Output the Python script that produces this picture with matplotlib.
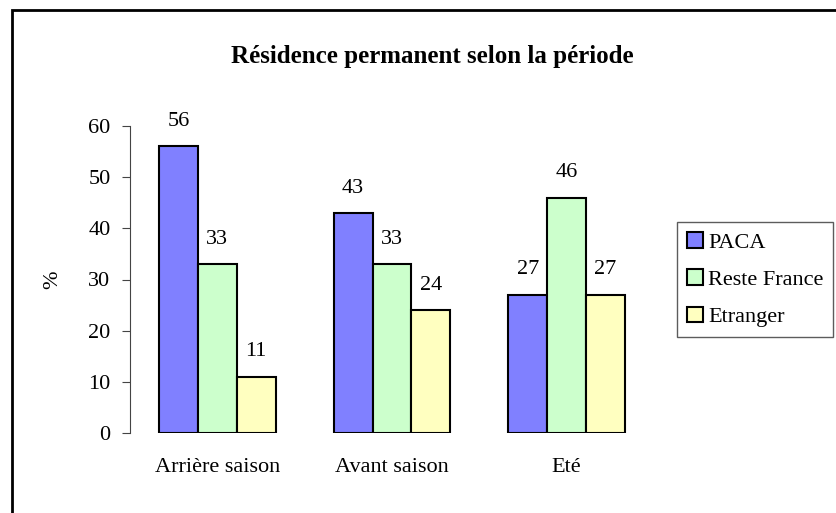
import matplotlib
matplotlib.use("Agg")
from matplotlib import pyplot as plt
from matplotlib.patches import Rectangle
import numpy as np

plt.rcParams["font.family"] = ["Liberation Serif", "DejaVu Serif"]

periods = ["Arrière saison", "Avant saison", "Eté"]
series = ["PACA", "Reste France", "Etranger"]
paca = [56, 43, 27]
reste_france = [33, 33, 46]
etranger = [11, 24, 27]
colors = ["#8080FF", "#CCFFCC", "#FFFFC0"]

fig = plt.figure(figsize=(8.37, 5.13), dpi=100)
ax = fig.add_axes([130 / 837, 80 / 513, 524 / 837, 307 / 513])

x = np.arange(len(periods))
width = 0.223
for i, (vals, name, col) in enumerate(zip([paca, reste_france, etranger], series, colors)):
    pos = x + (i - 1) * width
    ax.bar(pos, vals, width, color=col, edgecolor="black", linewidth=1.5, label=name)
    for p, v in zip(pos, vals):
        ax.text(p, v + 3.0, str(v), ha="center", va="bottom", fontsize=16)

ax.set_xlim(-0.5, 2.5)
ax.set_ylim(0, 60)
ax.set_yticks(range(0, 61, 10))
ax.set_xticks(x)
ax.set_xticklabels(periods, fontsize=16)
ax.tick_params(axis="x", length=0, pad=18)
ax.tick_params(axis="y", labelsize=16, length=6, direction="out", color="#444444", pad=8)
for s in ["top", "right", "bottom"]:
    ax.spines[s].set_visible(False)
ax.spines["left"].set_color("#444444")
ax.set_ylabel("%", fontsize=16)
ax.yaxis.set_label_coords(-0.13, 0.5)

fig.text(432 / 837, 1 - 56 / 513, "Résidence permanent selon la période", ha="center", va="center",
         fontsize=18, fontweight="bold")

leg = ax.legend(loc="upper left", bbox_to_anchor=(677 / 837, 1 - 222 / 513),
                bbox_transform=fig.transFigure, frameon=True, fancybox=False,
                fontsize=16, handlelength=0.7, handleheight=0.7, handletextpad=0.25,
                labelspacing=0.76, borderpad=0.45, borderaxespad=0)
leg.get_frame().set_edgecolor("#333333")
leg.get_frame().set_linewidth(1.0)

# outer chart border (only top and left visible in frame)
fig.patches.append(Rectangle((12 / 837, -0.1), 1.2, (513 - 10) / 513 + 0.1,
                             transform=fig.transFigure, fill=False,
                             edgecolor="black", linewidth=2))

fig.savefig("out.png", dpi=100)
